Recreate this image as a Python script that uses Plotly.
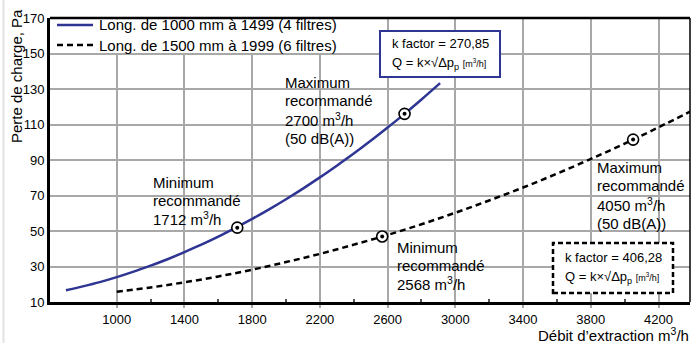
import plotly.graph_objects as go

# ---------------- data ----------------
q_4f = [700, 800, 900, 1000, 1100, 1200, 1300, 1400, 1500, 1600, 1700, 1800, 1900,
        2000, 2100, 2200, 2300, 2400, 2500, 2600, 2700, 2800, 2910]
dp_4f = [16.6, 18.8, 21.2, 24.0, 27.1, 30.5, 34.1, 38.1, 42.3, 46.8, 51.7, 56.8, 62.2,
         67.9, 73.9, 80.2, 86.8, 93.6, 100.8, 108.3, 116.0, 124.1, 133.3]

q_6f = [1000, 1200, 1400, 1600, 1800, 2000, 2200, 2400, 2600, 2800, 3000, 3200, 3400,
        3600, 3800, 4000, 4200, 4400]
dp_6f = [15.8, 18.2, 21.1, 24.4, 28.2, 32.5, 37.1, 42.3, 47.8, 53.8, 60.3, 67.2, 74.5,
         82.3, 90.6, 99.2, 108.4, 117.9]

pts_q = [1712, 2700, 2568, 4050]
pts_dp = [51.9, 116.0, 46.9, 101.5]

x_ticks = [1000, 1400, 1800, 2200, 2600, 3000, 3400, 3800, 4200]
y_ticks = [10, 30, 50, 70, 90, 110, 130, 150, 170]

series_names = ["Long. de 1000 mm à 1499 (4 filtres)", "Long. de 1500 mm à 1999 (6 filtres)"]

# ---------------- layout geometry ----------------
W, H = 692, 343
L, R, T, B = 50, 2, 18, 41
X0, X1 = 606, 4386
Y0, Y1 = 10, 170
PW, PH = W - L - R, H - T - B

def px_x(p):
    return X0 + (p - L) / PW * (X1 - X0)

def px_y(p):
    return Y1 - (p - T) / PH * (Y1 - Y0)

def pap_x(p):
    return (p - L) / PW

def pap_y(p):
    return 1 - (p - T) / PH

FONT = "Liberation Sans, Arial, sans-serif"
BLUE = "#2e3592"
DASH = "6px,4px"

fig = go.Figure()
fig.add_trace(go.Scatter(x=q_4f, y=dp_4f, mode="lines", name=series_names[0], showlegend=False,
                         line=dict(color=BLUE, width=2.5), line_shape="spline"))
fig.add_trace(go.Scatter(x=q_6f, y=dp_6f, mode="lines", name=series_names[1], showlegend=False,
                         line=dict(color="black", width=2.5, dash=DASH), line_shape="spline"))
fig.add_trace(go.Scatter(x=pts_q, y=pts_dp, mode="markers", showlegend=False,
                         marker=dict(symbol="circle", size=11, color="white",
                                     line=dict(color="black", width=1.6))))
fig.add_trace(go.Scatter(x=pts_q, y=pts_dp, mode="markers", showlegend=False,
                         marker=dict(symbol="circle", size=4, color="black")))

annotations = []
shapes = []

def txt(s, px, py, size=15, anchor="left"):
    annotations.append(dict(x=px_x(px), y=px_y(py), xref="x", yref="y", text=s,
                            showarrow=False, xanchor=anchor, yanchor="middle",
                            font=dict(family=FONT, size=size, color="black")))

# legend (drawn by hand so that its rows sit where the reference has them)
shapes.append(dict(type="rect", xref="paper", yref="paper", x0=pap_x(51.5), x1=pap_x(350), y0=pap_y(53), y1=pap_y(19.5),
                   line=dict(width=0), fillcolor="white", layer="above"))
leg_styles = [dict(color=BLUE, width=2.5), dict(color="black", width=2.5, dash=DASH)]
for name, st, py in zip(series_names, leg_styles, [25, 45]):
    shapes.append(dict(type="line", xref="paper", yref="paper", x0=pap_x(57), x1=pap_x(93),
                       y0=pap_y(py), y1=pap_y(py), line=st, layer="above"))
    annotations.append(dict(x=pap_x(97), y=pap_y(py), xref="paper", yref="paper", text=name,
                            showarrow=False, xanchor="left", yanchor="middle",
                            font=dict(family=FONT, size=15, color="black")))

for s, py in zip(["Maximum", "recommandé", "2700 m<sup>3</sup>/h", "(50 dB(A))"], [82, 100, 119, 138]):
    txt(s, 283, py)
for s, py in zip(["Minimum", "recommandé", "1712 m<sup>3</sup>/h"], [182, 200, 218]):
    txt(s, 151, py)
for s, py in zip(["Maximum", "recommandé", "4050 m<sup>3</sup>/h", "(50 dB(A))"], [167, 185, 204, 223]):
    txt(s, 595, py)
for s, py in zip(["Minimum", "recommandé", "2568 m<sup>3</sup>/h"], [247, 265, 283]):
    txt(s, 395, py)

# k-factor boxes
shapes.append(dict(type="rect", xref="x", yref="y", x0=px_x(380), x1=px_x(500), y0=px_y(77), y1=px_y(31),
                   line=dict(color=BLUE, width=2), fillcolor="white", layer="above"))
shapes.append(dict(type="rect", xref="x", yref="y", x0=px_x(553), x1=px_x(673), y0=px_y(293), y1=px_y(243),
                   line=dict(color="black", width=2.5, dash="5px,3px"), fillcolor="white", layer="above"))
small = "<span style='font-size:9px'>[m<sup>3</sup>/h]</span>"
txt("k factor = 270,85", 390, 43, size=13)
txt("Q = k×√Δp<sub>p</sub> " + small, 390, 63, size=13)
txt("k factor = 406,28", 563, 257, size=13)
txt("Q = k×√Δp<sub>p</sub> " + small, 563, 277, size=13)

# axis titles
annotations.append(dict(x=pap_x(17), y=pap_y(76), xref="paper", yref="paper", text="Perte de charge, Pa",
                        textangle=-90, showarrow=False, xanchor="center", yanchor="middle",
                        font=dict(family=FONT, size=15, color="black")))
annotations.append(dict(x=pap_x(691), y=pap_y(334), xref="paper", yref="paper",
                        text="Débit d’extraction m<sup>3</sup>/h",
                        showarrow=False, xanchor="right", yanchor="middle",
                        font=dict(family=FONT, size=15, color="black")))

# frame: top and right lines, left page edge line
shapes.append(dict(type="line", xref="paper", yref="paper", x0=0, x1=1, y0=1, y1=1,
                   line=dict(color="black", width=2.5), layer="above"))
shapes.append(dict(type="line", xref="paper", yref="paper", x0=1, x1=1, y0=0, y1=1,
                   line=dict(color="black", width=1.5), layer="above"))
shapes.append(dict(type="line", xref="paper", yref="paper", x0=pap_x(3.5), x1=pap_x(3.5), y0=pap_y(0), y1=pap_y(343),
                   line=dict(color="#e2e2e2", width=2), layer="below"))

fig.update_layout(
    width=W, height=H,
    margin=dict(l=L, r=R, t=T, b=B),
    paper_bgcolor="white", plot_bgcolor="white",
    font=dict(family=FONT, size=13, color="black"),
    showlegend=False,
    annotations=annotations,
    shapes=shapes,
)
fig.update_xaxes(range=[X0, X1], tickvals=x_ticks, ticktext=[str(v) for v in x_ticks],
                 showgrid=True, gridcolor="#a8a8a8", gridwidth=1.5,
                 showline=True, linecolor="black", linewidth=3,
                 ticks="outside", ticklen=3, tickcolor="#a8a8a8", tickwidth=1.5,
                 tickfont=dict(family=FONT, size=13), zeroline=False,
                 minor=dict(tickvals=[1200, 1600, 2000, 2400, 2800, 3200, 3600, 4000],
                            ticks="inside", ticklen=3, tickcolor="#555555", tickwidth=1.5, showgrid=False))
fig.update_yaxes(range=[Y0, Y1], tickvals=y_ticks, ticktext=[str(v) for v in y_ticks],
                 showgrid=True, gridcolor="#a8a8a8", gridwidth=1.5,
                 showline=True, linecolor="black", linewidth=3,
                 ticks="", tickfont=dict(family=FONT, size=13), zeroline=False)

fig.write_html("out.html")
